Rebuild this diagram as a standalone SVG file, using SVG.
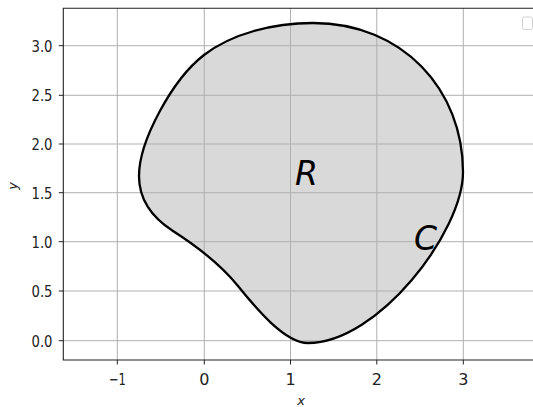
<svg xmlns="http://www.w3.org/2000/svg" width="533" height="407" viewBox="0 0 533 407">
<style>
.grid{stroke:#b0b0b0;stroke-width:1;fill:none}
.spine{stroke:#222;stroke-width:1.1;fill:none}
.tick{stroke:#222;stroke-width:1;fill:none}
.tl{font-family:"DejaVu Sans",sans-serif;font-size:16px;fill:#222}
.lab{font-family:"DejaVu Sans",sans-serif;font-style:italic;font-size:13px;fill:#222}
.big{font-family:"DejaVu Sans",sans-serif;font-style:italic;font-size:33px;fill:#000}
</style>
<defs>
<path id="boundary" d="M313,23 C403,23 463,90 463,172 C463,232 378,343 308,343 C285,343 256.4,308.8 238,286 C222,266.2 198,247 173,231 C152,217.5 139,200 139,176 C139,141 172.4,79.4 204,55 C231.7,33.7 273,23 313,23 Z"/>
</defs>
<rect width="533" height="407" fill="#fff"/>
<g id="region-fill">
<use href="#boundary" fill="#d9d9d9" stroke="none"/>
</g>
<g id="grid">
<line class="grid" x1="117.3" y1="8" x2="117.3" y2="360"/>
<line class="grid" x1="204.3" y1="8" x2="204.3" y2="360"/>
<line class="grid" x1="290.5" y1="8" x2="290.5" y2="360"/>
<line class="grid" x1="376.8" y1="8" x2="376.8" y2="360"/>
<line class="grid" x1="463.3" y1="8" x2="463.3" y2="360"/>
<line class="grid" x1="63" y1="45.7" x2="533" y2="45.7"/>
<line class="grid" x1="63" y1="95.3" x2="533" y2="95.3"/>
<line class="grid" x1="63" y1="144" x2="533" y2="144"/>
<line class="grid" x1="63" y1="192.7" x2="533" y2="192.7"/>
<line class="grid" x1="63" y1="241.7" x2="533" y2="241.7"/>
<line class="grid" x1="63" y1="291" x2="533" y2="291"/>
<line class="grid" x1="63" y1="340.7" x2="533" y2="340.7"/>
</g>
<g id="curve-C">
<use href="#boundary" fill="none" stroke="#000" stroke-width="2.3" stroke-linejoin="round"/>
</g>
<g id="axes">
<path class="spine" d="M533,8.3 H63.3 V360 H533"/>
<g id="xticks">
<line class="tick" x1="117.3" y1="360" x2="117.3" y2="364.5"/>
<line class="tick" x1="204.3" y1="360" x2="204.3" y2="364.5"/>
<line class="tick" x1="290.5" y1="360" x2="290.5" y2="364.5"/>
<line class="tick" x1="376.8" y1="360" x2="376.8" y2="364.5"/>
<line class="tick" x1="463.3" y1="360" x2="463.3" y2="364.5"/>
</g>
<g id="yticks">
<line class="tick" x1="58.8" y1="45.7" x2="63.3" y2="45.7"/>
<line class="tick" x1="58.8" y1="95.3" x2="63.3" y2="95.3"/>
<line class="tick" x1="58.8" y1="144" x2="63.3" y2="144"/>
<line class="tick" x1="58.8" y1="192.7" x2="63.3" y2="192.7"/>
<line class="tick" x1="58.8" y1="241.7" x2="63.3" y2="241.7"/>
<line class="tick" x1="58.8" y1="291" x2="63.3" y2="291"/>
<line class="tick" x1="58.8" y1="340.7" x2="63.3" y2="340.7"/>
</g>
<g id="xticklabels" class="tl" text-anchor="middle">
<text x="117.3" y="385" textLength="17" lengthAdjust="spacingAndGlyphs">−1</text>
<text x="204.3" y="385">0</text>
<text x="290.5" y="385">1</text>
<text x="376.8" y="385">2</text>
<text x="463.3" y="385">3</text>
</g>
<g id="yticklabels" class="tl" text-anchor="end">
<text x="52.5" y="51.5" textLength="21" lengthAdjust="spacingAndGlyphs">3.0</text>
<text x="52.5" y="101.1" textLength="21" lengthAdjust="spacingAndGlyphs">2.5</text>
<text x="52.5" y="149.8" textLength="21" lengthAdjust="spacingAndGlyphs">2.0</text>
<text x="52.5" y="198.5" textLength="21" lengthAdjust="spacingAndGlyphs">1.5</text>
<text x="52.5" y="247.5" textLength="21" lengthAdjust="spacingAndGlyphs">1.0</text>
<text x="52.5" y="296.8" textLength="21" lengthAdjust="spacingAndGlyphs">0.5</text>
<text x="52.5" y="346.5" textLength="21" lengthAdjust="spacingAndGlyphs">0.0</text>
</g>
<text id="xlabel" class="lab" x="301" y="405" text-anchor="middle">x</text>
<text id="ylabel" class="lab" transform="translate(17,186) rotate(-90)" text-anchor="middle">y</text>
</g>
<g id="legend">
<rect x="522.5" y="17" width="10" height="12.5" rx="2" fill="#fff" stroke="#d0d0d0" stroke-width="1"/>
</g>
<g id="labels">
<text id="label-R" class="big" x="295" y="185">R</text>
<text id="label-C" class="big" x="414" y="250">C</text>
</g>
</svg>
